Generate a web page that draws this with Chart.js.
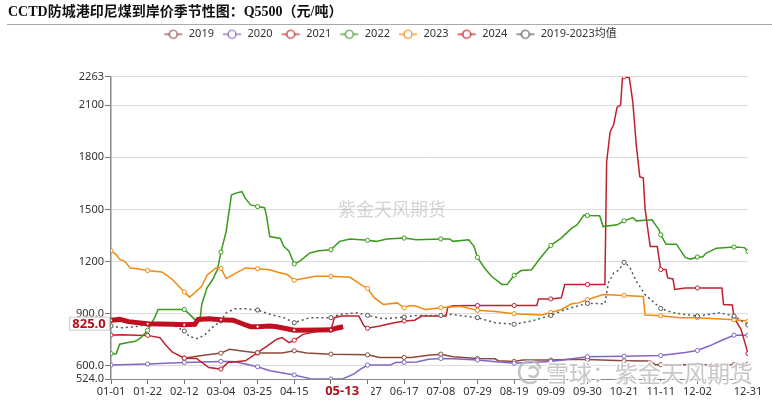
<!DOCTYPE html>
<html>
<head>
<meta charset="utf-8">
<script src="https://cdn.jsdelivr.net/npm/chart.js@4.4.1/dist/chart.umd.min.js"></script>
<style>
  html, body { margin: 0; padding: 0; background: #fff; }
</style>
</head>
<body>
<canvas id="seasonChart" width="772" height="400"></canvas>
<script>
// x = day of year (0 = 01-01, 365 = 12-31), y = 元/吨
const tickDays = [0, 21, 42, 63, 84, 105, 126, 147, 168, 189, 210, 231, 252, 273, 294, 315, 336, 365];
const tickLabels = ['01-01', '01-22', '02-12', '03-04', '03-25', '04-15', '05-06', '05-27', '06-17', '07-08',
  '07-29', '08-19', '09-09', '09-30', '10-21', '11-11', '12-02', '12-31'];
const yTicks = [524, 600, 900, 1200, 1500, 1800, 2100, 2263];

const seriesNames = ['2019', '2020', '2021', '2022', '2023', '2024', '2019-2023均值'];

const y2019 = [[42,644],[50,657],[63,673],[68,695],[74,686],[84,673],[98,673],[105,686],[112,673],[126,667],
  [147,663],[154,648],[168,648],[172,648],[182,661],[189,667],[196,652],[210,642],[220,640],[222,629],[231,625],
  [236,633],[252,633],[262,636],[273,636],[294,629],[309,627],[312,606],[315,606],[336,606],[357,606],[365,610]];

const y2020 = [[0,604],[21,610],[42,619],[63,625],[70,624],[77,610],[84,594],[91,571],[105,547],[114,526],
  [126,524],[133,526],[139,552],[143,581],[147,604],[160,604],[163,619],[168,620],[175,622],[182,638],[189,642],
  [196,640],[210,633],[219,625],[231,615],[252,625],[273,652],[294,655],[315,659],[329,676],[336,688],[343,715],
  [350,747],[357,776],[365,776]];

const y2021 = [[0,777],[7,778],[14,776],[21,775],[28,762],[31,724],[35,680],[42,644],[49,642],[56,590],[63,581],
  [67,619],[70,622],[77,629],[84,676],[91,725],[95,753],[98,762],[102,733],[105,747],[110,781],[119,800],[126,805],
  [128,877],[132,886],[142,886],[145,829],[147,816],[154,829],[161,845],[168,858],[174,862],[178,886],[192,886],
  [193,938],[196,945],[210,947],[231,947],[244,947],[245,985],[252,985],[258,991],[260,1068],[273,1068],[283,1068],
  [284,1774],[286,1946],[288,1987],[290,2088],[292,2100],[293,2250],[294,2263],[297,2258],[299,2117],[301,1869],
  [303,1688],[305,1680],[306,1506],[308,1354],[309,1287],[313,1287],[315,1154],[318,1154],[319,1106],[322,1100],
  [323,1039],[329,1048],[336,1048],[350,1048],[351,953],[356,950],[357,877],[361,810],[365,670]];

const y2022 = [[0,670],[3,670],[5,724],[9,733],[14,741],[17,760],[21,804],[25,877],[27,924],[42,924],[45,896],
  [48,867],[51,867],[52,953],[55,1048],[58,1092],[61,1153],[63,1254],[66,1373],[69,1583],[72,1595],[75,1602],
  [77,1563],[80,1526],[84,1516],[88,1510],[89,1468],[91,1344],[97,1333],[99,1287],[102,1260],[105,1186],
  [108,1201],[114,1249],[119,1262],[126,1268],[131,1316],[137,1329],[147,1322],[152,1316],[158,1329],[168,1335],
  [175,1325],[189,1330],[194,1330],[196,1316],[205,1325],[208,1287],[210,1224],[214,1163],[218,1115],[224,1068],
  [227,1068],[231,1121],[235,1148],[241,1153],[246,1220],[252,1293],[258,1335],[264,1392],[267,1411],[271,1468],
  [273,1465],[280,1463],[282,1401],[290,1411],[294,1434],[299,1453],[301,1434],[310,1440],[314,1383],[315,1354],
  [318,1300],[324,1300],[329,1224],[332,1214],[336,1226],[339,1226],[341,1249],[347,1277],[357,1283],[363,1280],
  [365,1258]];

const y2023 = [[0,1262],[3,1240],[5,1212],[8,1200],[11,1163],[14,1160],[21,1148],[29,1140],[32,1120],[35,1098],
  [42,1025],[45,995],[48,1020],[52,1058],[55,1121],[60,1163],[63,1160],[66,1102],[70,1125],[77,1163],[84,1159],
  [91,1153],[95,1140],[101,1125],[105,1092],[117,1115],[126,1115],[137,1109],[143,1068],[147,1045],[151,991],
  [156,953],[164,962],[168,934],[171,947],[175,943],[180,924],[189,934],[200,943],[210,919],[220,912],[231,900],
  [247,893],[252,907],[258,924],[264,957],[268,962],[273,980],[282,1010],[294,1005],[305,999],[306,892],[315,888],
  [326,877],[336,877],[357,865],[365,858]];

const y2024 = [[0,862],[5,867],[10,854],[21,842],[35,839],[42,836],[48,839],[50,867],[56,870],[63,865],[70,862],
  [76,839],[80,825],[84,825],[91,829],[95,825],[105,805],[119,806],[126,807],[129,816],[133,825]];

const yAvg = [[0,829],[6,819],[14,825],[21,839],[29,848],[35,838],[42,800],[45,768],[50,756],[54,781],[58,820],
  [63,858],[66,905],[71,928],[77,928],[84,921],[91,896],[99,877],[105,848],[114,877],[126,877],[131,896],[141,905],
  [147,890],[156,871],[168,880],[175,890],[189,890],[195,896],[210,877],[220,848],[231,839],[241,858],[252,890],
  [258,915],[264,935],[273,959],[283,957],[285,1077],[288,1134],[291,1150],[294,1195],[297,1172],[301,1087],
  [306,1010],[315,930],[322,905],[336,886],[349,905],[357,886],[365,835]];

const latestDay = 133;
const latestValue = 825;
const latestLabel = '05-13';

const seriesList = [y2019, y2020, y2021, y2022, y2023, y2024, yAvg];
const colors = ['#8c4a3e', '#8266c2', '#c0202c', '#3b9a1c', '#f08a10', '#c01020', '#555555'];

const sansFont = '"Noto Sans", "Noto Sans CJK SC", sans-serif';
const cjkFont = '"Noto Sans CJK SC", sans-serif';

function makeIcon(color) {
  const c = document.createElement('canvas');
  c.width = 20; c.height = 12;
  const g = c.getContext('2d');
  g.strokeStyle = color;
  g.lineWidth = 1.2;
  g.beginPath(); g.moveTo(1, 6); g.lineTo(19, 6); g.stroke();
  g.beginPath(); g.arc(10, 6, 4, 0, Math.PI * 2);
  g.fillStyle = '#fff'; g.fill(); g.stroke();
  return c;
}
const icons = colors.map(makeIcon);

const markerRadius = r => ctx => {
  const d = ctx.raw && ctx.raw.x;
  return (d % 21 === 0 || d === 365) ? r : 0;
};

const datasets = seriesList.map((list, i) => {
  const is2024 = seriesNames[i] === '2024';
  const isAvg = i === seriesList.length - 1;
  return {
    label: seriesNames[i],
    data: list.map(([x, y]) => ({ x, y })),
    borderColor: colors[i],
    backgroundColor: colors[i],
    borderWidth: is2024 ? 5 : 1.5,
    borderDash: isAvg ? [2, 3] : [],
    pointBackgroundColor: '#fff',
    pointBorderColor: colors[i],
    pointBorderWidth: 1,
    pointRadius: markerRadius(is2024 ? 1.6 : 2.1),
    pointHoverRadius: 0,
    tension: 0,
    order: is2024 ? 0 : (isAvg ? 1 : 10 - i),
  };
});

//title rule, watermarks, latest value / date markers
const decor = {
  id: 'decor',
  beforeDatasetsDraw(chart) {
    const ctx = chart.ctx;
    ctx.save();
    ctx.font = '18px ' + cjkFont;
    ctx.fillStyle = 'rgba(160,160,160,0.45)';
    ctx.textBaseline = 'middle';
    ctx.fillText('紫金天风期货', 338, 209);
    ctx.restore();
  },
  afterDraw(chart) {
    const ctx = chart.ctx;
    const { x, y } = chart.scales;
    ctx.save();
    ctx.strokeStyle = '#aaa';
    ctx.lineWidth = 1;
    ctx.beginPath(); ctx.moveTo(7, 24.5); ctx.lineTo(772, 24.5); ctx.stroke();

    // bottom-right watermark
    ctx.strokeStyle = 'rgba(190,190,190,0.9)';
    ctx.lineWidth = 2.5;
    ctx.beginPath(); ctx.arc(530, 372, 11, 0.3 * Math.PI, 1.9 * Math.PI); ctx.stroke();
    ctx.beginPath(); ctx.arc(533, 372, 5, 1.2 * Math.PI, 0.8 * Math.PI); ctx.stroke();
    ctx.font = '23px ' + cjkFont;
    ctx.textBaseline = 'middle';
    ctx.lineWidth = 3;
    ctx.strokeStyle = 'rgba(255,255,255,0.8)';
    ctx.strokeText('雪球：紫金天风期货', 546, 373);
    ctx.fillStyle = 'rgba(185,185,185,0.8)';
    ctx.fillText('雪球：紫金天风期货', 546, 373);

    // latest value on the y axis
    const py = y.getPixelForValue(latestValue) - 3;
    ctx.fillStyle = '#fff';
    ctx.strokeStyle = '#ccc';
    ctx.lineWidth = 1;
    ctx.fillRect(69, py - 7, 41, 14);
    ctx.strokeRect(69.5, py - 6.5, 40, 13);
    ctx.font = 'bold 13px ' + sansFont;
    ctx.fillStyle = '#b0101c';
    ctx.textAlign = 'center';
    ctx.fillText(latestValue.toFixed(1), 89, py + 0.5);

    // latest date on the x axis
    const px = x.getPixelForValue(latestDay);
    ctx.fillStyle = '#fff';
    ctx.fillRect(px - 28, 385, 56, 13);
    ctx.fillStyle = '#b0101c';
    ctx.fillText(latestLabel, px - 1, 391);
    ctx.restore();
  }
};

new Chart(document.getElementById('seasonChart'), {
  type: 'line',
  data: { datasets },
  plugins: [decor],
  options: {
    responsive: false,
    animation: false,
    events: [],
    layout: { padding: { left: 8, right: 0, top: 0, bottom: 0 } },
    plugins: {
      tooltip: { enabled: false },
      title: {
        display: true,
        text: 'CCTD防城港印尼煤到岸价季节性图：Q5500（元/吨）',
        align: 'start',
        color: '#111',
        font: { size: 14, weight: 'bold', family: '"Liberation Serif", "Noto Sans CJK SC", serif' },
        padding: { top: 4, bottom: 0 },
      },
      legend: {
        position: 'top',
        labels: {
          usePointStyle: true,
          pointStyleWidth: 20,
          padding: 8,
          color: '#333',
          font: { size: 11, family: sansFont },
          generateLabels: chart => chart.data.datasets.map((ds, i) => ({
            text: ds.label,
            fillStyle: ds.borderColor,
            strokeStyle: ds.borderColor,
            lineWidth: 0,
            pointStyle: icons[i],
            hidden: !chart.isDatasetVisible(i),
            datasetIndex: i,
            fontColor: '#333',
          })),
        },
      },
      subtitle: {
        display: true,
        text: '',
        weight: 500,
        font: { size: 10 },
        padding: { top: 0, bottom: 15 },
      },
    },
    scales: {
      x: {
        type: 'linear',
        min: 0,
        max: 365,
        afterBuildTicks: s => { s.ticks = tickDays.map(v => ({ value: v })); },
        afterFit: s => { s.height = 21; s.paddingRight = 24; },
        grid: { drawOnChartArea: false, drawTicks: true, tickLength: 5, tickColor: '#777' },
        border: { color: '#888', width: 1 },
        ticks: {
          autoSkip: false,
          maxRotation: 0,
          padding: 1,
          color: '#333',
          font: { size: 11, family: sansFont },
          callback: v => tickLabels[tickDays.indexOf(v)],
        },
      },
      y: {
        min: 524,
        max: 2263,
        afterBuildTicks: s => { s.ticks = yTicks.map(v => ({ value: v })); },
        afterFit: s => { s.width = 103; },
        grid: {
          color: c => (c.tick && c.tick.value === 524) ? 'rgba(0,0,0,0)' : '#dcdcdc',
          tickLength: 6,
          tickColor: '#777',
        },
        border: { color: '#888', width: 1.5 },
        ticks: {
          padding: 1,
          color: '#333',
          font: { size: 11, family: sansFont },
          callback: v => v < 1000 ? v.toFixed(1) : String(v),
        },
      },
    },
  },
});
</script>
</body>
</html>
